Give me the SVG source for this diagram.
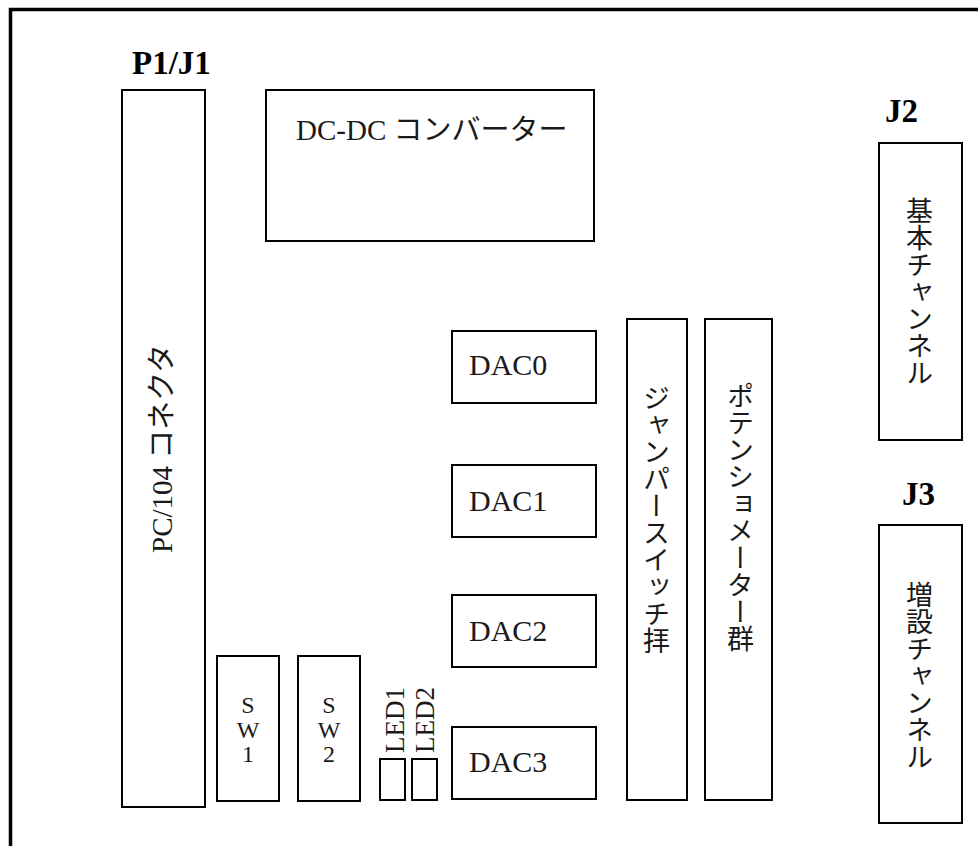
<svg xmlns="http://www.w3.org/2000/svg" width="978" height="846" viewBox="0 0 978 846">
<style>
.box{fill:#fff;stroke:#000;stroke-width:2}
.t{font-family:"Liberation Serif","Noto Sans CJK JP",serif;fill:#1a1a1a}
.lbl{font-family:"Liberation Serif","Noto Sans CJK JP",serif;font-weight:bold;font-size:33px;fill:#000}
.v{font-family:"Liberation Serif","Noto Sans CJK JP",serif;font-size:27px;fill:#1a1a1a;writing-mode:vertical-rl;text-anchor:middle}
.sw{font-family:"Liberation Serif",serif;font-size:24px;fill:#1a1a1a;text-anchor:middle}
</style>
<rect width="978" height="846" fill="#fff"/>
<path d="M10.5,846 V9.5 H978" fill="none" stroke="#000" stroke-width="3.5"/>
<g id="connectors"/>
<g id="p1j1">
<text class="lbl" x="132" y="74">P1/J1</text>
<rect class="box" x="122" y="90" width="83" height="717"/>
<text class="t" font-size="29" transform="translate(172,553) rotate(-90)">PC/104 コネクタ</text>
</g>
<g id="dcdc">
<rect class="box" x="266" y="90" width="328" height="151"/>
<text class="t" font-size="29" x="296" y="140">DC-DC コンバーター</text>
</g>
<g id="j2">
<text class="lbl" x="885" y="122">J2</text>
<rect class="box" x="879" y="143" width="83" height="297"/>
<text class="v" x="917" y="292">基本チャンネル</text>
</g>
<g id="j3">
<text class="lbl" x="902" y="505">J3</text>
<rect class="box" x="879" y="525" width="83" height="298"/>
<text class="v" x="917" y="676">増設チャンネル</text>
</g>
<g id="dac0">
<rect class="box" x="452" y="331" width="144" height="72"/>
<text class="t" font-size="30" x="469" y="375">DAC0</text>
</g>
<g id="dac1">
<rect class="box" x="452" y="465" width="144" height="72"/>
<text class="t" font-size="30" x="469" y="511">DAC1</text>
</g>
<g id="dac2">
<rect class="box" x="452" y="595" width="144" height="72"/>
<text class="t" font-size="30" x="469" y="641">DAC2</text>
</g>
<g id="dac3">
<rect class="box" x="452" y="727" width="144" height="72"/>
<text class="t" font-size="30" x="469" y="772">DAC3</text>
</g>
<g id="jumper">
<rect class="box" x="627" y="319" width="60" height="481"/>
<text class="v" x="654" y="519">ジャンパースイッチ拝</text>
</g>
<g id="pot">
<rect class="box" x="705" y="319" width="67" height="481"/>
<text class="v" x="738" y="517">ポテンショメーター群</text>
</g>
<g id="sw1">
<rect class="box" x="217" y="656" width="62" height="145"/>
<text class="sw" x="248" y="713">S</text>
<text class="sw" x="248" y="738">W</text>
<text class="sw" x="248" y="762">1</text>
</g>
<g id="sw2">
<rect class="box" x="298" y="656" width="62" height="145"/>
<text class="sw" x="329" y="713">S</text>
<text class="sw" x="329" y="738">W</text>
<text class="sw" x="329" y="762">2</text>
</g>
<g id="led1">
<rect class="box" x="380" y="759" width="25" height="41"/>
<text class="t" font-size="27" transform="translate(404,753) rotate(-90)">LED1</text>
</g>
<g id="led2">
<rect class="box" x="412" y="759" width="25" height="41"/>
<text class="t" font-size="27" transform="translate(434,753) rotate(-90)">LED2</text>
</g>
</svg>
